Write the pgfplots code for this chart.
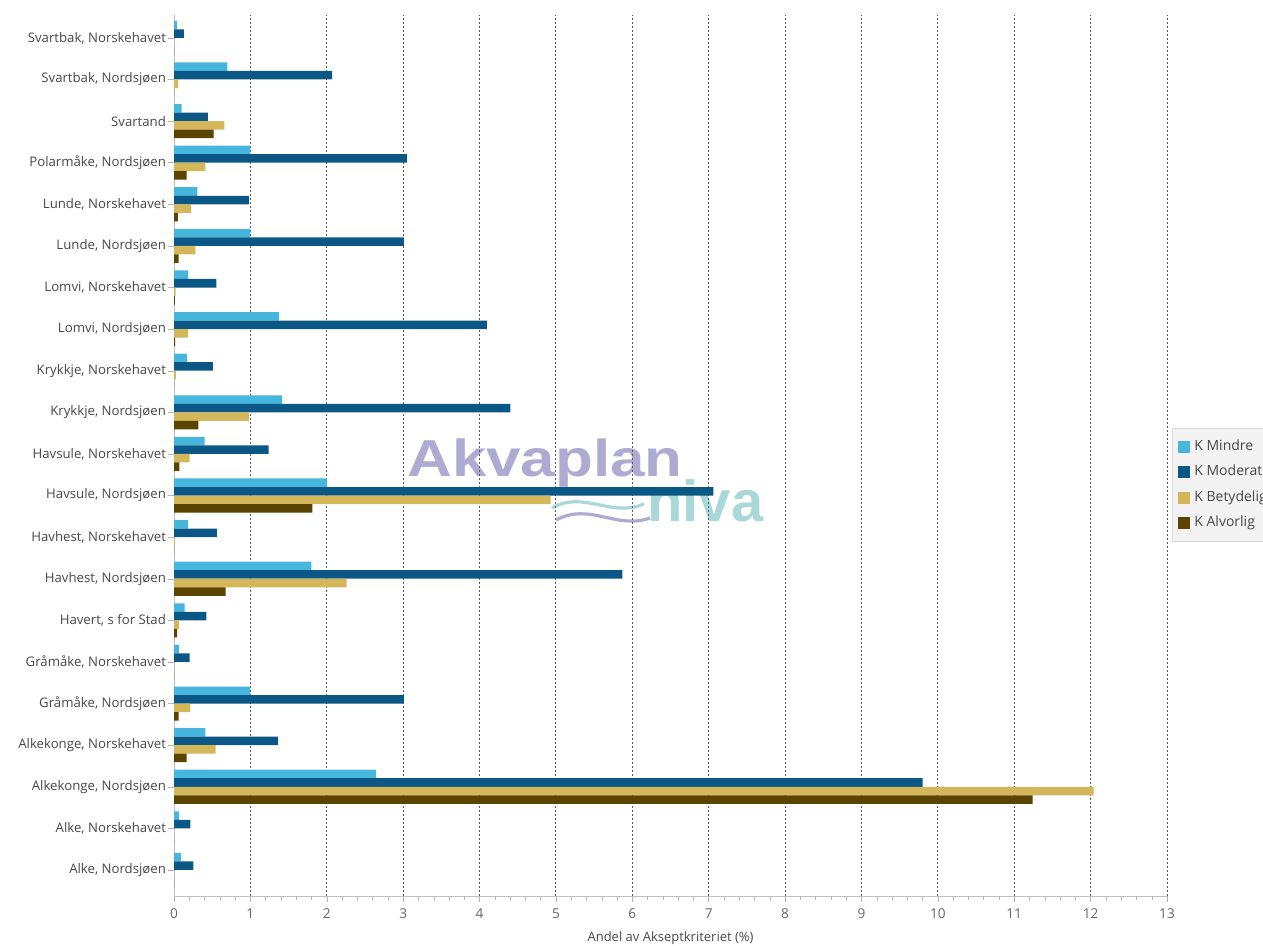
\documentclass[border=0pt]{standalone}
\usepackage{pgfplots}
\pgfplotsset{compat=1.18}
\usepackage{pgfplotstable}
\usepackage{fontspec}
\setmainfont{Open Sans}
\newfontfamily\logofont{Liberation Sans}
\definecolor{cMindre}{HTML}{47B6DC}
\definecolor{cModerat}{HTML}{0B5886}
\definecolor{cBetydelig}{HTML}{D3B75A}
\definecolor{cAlvorlig}{HTML}{5B4300}
\definecolor{logoA}{HTML}{ADABD2}
\definecolor{logoN}{HTML}{A8D9D8}
\definecolor{legfill}{HTML}{F3F3F3}
\definecolor{legdraw}{HTML}{DADADA}
\pgfplotsset{sqleg/.style={legend image code/.code={\fill[##1] (0pt,-3pt) rectangle (6pt,3pt);}}}

\pgfplotstableread{
idx mindre moderat betydelig alvorlig
0  0.09  0.255 0     0
1  0.065 0.215 0     0
2  2.645 9.80  12.04 11.24
3  0.41  1.36  0.545 0.165
4  1.00  3.01  0.215 0.06
5  0.065 0.205 0     0
6  0.14  0.425 0.065 0.04
7  1.80  5.87  2.26  0.675
8  0.185 0.56  0.015 0
9  2.00  7.06  4.93  1.81
10 0.40  1.24  0.205 0.07
11 1.415 4.405 0.98  0.32
12 0.17  0.51  0.025 0
13 1.375 4.095 0.185 0.015
14 0.185 0.555 0.02  0.01
15 1.00  3.01  0.28  0.06
16 0.305 0.98  0.225 0.05
17 1.00  3.05  0.41  0.165
18 0.10  0.445 0.66  0.52
19 0.70  2.07  0.055 0
20 0.04  0.13  0     0
}\data

\begin{document}
\begin{tikzpicture}
\path[use as bounding box] (0pt,0pt) rectangle (631.5pt,473pt);
% watermark
\node[anchor=base west, inner sep=0pt, text=logoA, font=\logofont\bfseries\fontsize{26}{26}\selectfont, xscale=1.19] at (203.5pt,234.5pt) {Akvaplan};
\node[anchor=base west, inner sep=0pt, text=logoN, font=\logofont\bfseries\fontsize{29}{29}\selectfont] at (323.5pt,212pt) {niva};
\draw[logoN, line width=1.6pt] (276pt,219pt) .. controls (292pt,228pt) and (305pt,214pt) .. (322pt,221pt);
\draw[logoA, line width=1.6pt] (278pt,213pt) .. controls (295pt,222pt) and (308pt,208pt) .. (325pt,214pt);
\begin{axis}[
  at={(87pt,25pt)}, anchor=south west,
  scale only axis, width=496.5pt, height=440.5pt,
  xbar, bar width=0.205,
  xmin=0, xmax=13, ymin=-0.625, ymax=20.55,
  axis x line*=bottom, axis y line*=left,
  axis line style={draw=black!25, -},
  xtick={0,...,13}, minor x tick num=4,
  ytick={0,...,20},
  yticklabels={{Alke, Nordsjøen},{Alke, Norskehavet},{Alkekonge, Nordsjøen},{Alkekonge, Norskehavet},{Gråmåke, Nordsjøen},{Gråmåke, Norskehavet},{Havert, s for Stad},{Havhest, Nordsjøen},{Havhest, Norskehavet},{Havsule, Nordsjøen},{Havsule, Norskehavet},{Krykkje, Nordsjøen},{Krykkje, Norskehavet},{Lomvi, Nordsjøen},{Lomvi, Norskehavet},{Lunde, Nordsjøen},{Lunde, Norskehavet},{Polarmåke, Nordsjøen},{Svartand},{Svartbak, Nordsjøen},{Svartbak, Norskehavet}},
  xmajorgrids,
  major x grid style={dash pattern=on 1pt off 1pt, draw=black!65, line width=0.5pt},
  tick style={draw=black!30},
  major tick length=3pt, minor tick length=2pt,
  tick align=outside,
  /pgf/number format/assume math mode=true,
  xticklabel style={font=\fontsize{6.8}{7}\selectfont, text=black!60, anchor=center, yshift=-6pt},
  yticklabel style={font=\fontsize{6.6}{7}\selectfont, text=black!72, xshift=2.5pt},
  xlabel={Andel av Akseptkriteriet (\%)},
  xlabel style={font=\fontsize{6.5}{7}\selectfont, text=black!72, at={(axis description cs:0.5,0)}, anchor=center, yshift=-21pt},
  legend style={at={(1.005,0.531)}, anchor=north west, fill=legfill, draw=legdraw,
    font=\fontsize{7}{7.5}\selectfont, text=black!72, inner xsep=3pt, inner ysep=4pt,
    row sep=2.2pt, nodes={text height=5pt, text depth=1.5pt}},
  legend cell align=left,
]
\addplot[fill=cMindre, draw=none, bar shift=0.3075, sqleg] table[x=mindre, y=idx]{\data};
\addplot[fill=cModerat, draw=none, bar shift=0.1025, sqleg] table[x=moderat, y=idx]{\data};
\addplot[fill=cBetydelig, draw=none, bar shift=-0.1025, sqleg] table[x=betydelig, y=idx]{\data};
\addplot[fill=cAlvorlig, draw=none, bar shift=-0.3075, sqleg] table[x=alvorlig, y=idx]{\data};
\legend{K Mindre, K Moderat, K Betydelig, K Alvorlig}
\end{axis}
\end{tikzpicture}
\end{document}
